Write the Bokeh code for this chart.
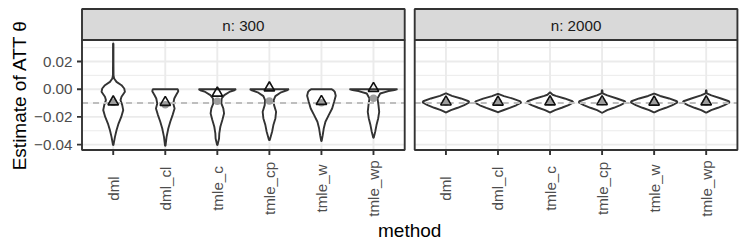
import math
from bokeh.plotting import figure
from bokeh.models import Range1d
from bokeh.core.properties import value
from bokeh.embed import file_html
from bokeh.resources import INLINE

# ---------------- data ----------------
methods = ["dml", "dml_cl", "tmle_c", "tmle_cp", "tmle_w", "tmle_wp"]
panels = ["n: 300", "n: 2000"]
y_ticks = [-0.04, -0.02, 0.0, 0.02]
y_tick_labels = ["\u22120.04", "\u22120.02", "0.00", "0.02"]
y_minor = [-0.03, -0.01, 0.01, 0.03]
true_att = -0.01
x_title = "method"
y_title = "Estimate of ATT \u03b8"

mean_300 = [-0.0091, -0.0095, -0.0028, 0.0010, -0.0088, 0.0006]
median_300 = [-0.0095, -0.0112, -0.0087, -0.0085, -0.0097, -0.0065]
mean_2000 = [-0.0092, -0.0093, -0.0091, -0.0090, -0.0093, -0.0091]
median_2000 = [-0.0093, -0.0094, -0.0092, -0.0091, -0.0094, -0.0092]

# violin outlines: estimate values and density half-widths (category units)
violin_y_300 = [
    [0.0330, 0.0200, 0.0100, 0.0077, 0.0053, 0.0029, 0.0005, -0.0019, -0.0055, -0.0079, -0.0115, -0.0151, -0.0200, -0.0248, -0.0296, -0.0344, -0.0404],
    [0.0000, -0.0015, -0.0040, -0.0067, -0.0103, -0.0139, -0.0187, -0.0235, -0.0284, -0.0344, -0.0409],
    [0.0000, -0.0008, -0.0020, -0.0043, -0.0067, -0.0103, -0.0139, -0.0175, -0.0223, -0.0271, -0.0319, -0.0356, -0.0404],
    [0.0000, -0.0008, -0.0025, -0.0050, -0.0079, -0.0115, -0.0163, -0.0211, -0.0259, -0.0307, -0.0368],
    [0.0000, -0.0008, -0.0019, -0.0048, -0.0091, -0.0139, -0.0187, -0.0235, -0.0284, -0.0332, -0.0375],
    [0.0000, -0.0007, -0.0014, -0.0031, -0.0067, -0.0115, -0.0163, -0.0211, -0.0259, -0.0307, -0.0350],
]
violin_w_300 = [
    [0.004, 0.004, 0.006, 0.017, 0.063, 0.159, 0.211, 0.225, 0.159, 0.140, 0.173, 0.192, 0.154, 0.102, 0.063, 0.033, 0.004],
    [0.240, 0.250, 0.211, 0.173, 0.154, 0.179, 0.140, 0.096, 0.058, 0.025, 0.004],
    [0.359, 0.327, 0.231, 0.134, 0.083, 0.077, 0.115, 0.129, 0.096, 0.058, 0.038, 0.033, 0.004],
    [0.375, 0.336, 0.211, 0.115, 0.083, 0.090, 0.129, 0.115, 0.077, 0.052, 0.006],
    [0.192, 0.231, 0.256, 0.275, 0.244, 0.206, 0.140, 0.077, 0.044, 0.025, 0.004],
    [0.461, 0.403, 0.288, 0.129, 0.077, 0.096, 0.110, 0.090, 0.058, 0.033, 0.004],
]
violin_y_2000 = [
    [-0.0031, -0.0048, -0.0067, -0.0087, -0.0096, -0.0115, -0.0134, -0.0151, -0.0168],
    [-0.0034, -0.0050, -0.0068, -0.0088, -0.0097, -0.0116, -0.0135, -0.0152, -0.0166],
    [-0.0024, -0.0040, -0.0048, -0.0067, -0.0087, -0.0096, -0.0115, -0.0134, -0.0151, -0.0168],
    [-0.0007, -0.0030, -0.0045, -0.0067, -0.0087, -0.0096, -0.0115, -0.0134, -0.0151, -0.0170],
    [-0.0032, -0.0049, -0.0067, -0.0087, -0.0096, -0.0115, -0.0134, -0.0151, -0.0167],
    [-0.0007, -0.0030, -0.0045, -0.0067, -0.0087, -0.0096, -0.0115, -0.0134, -0.0151, -0.0169],
]
violin_w_2000 = [
    [0.004, 0.115, 0.288, 0.436, 0.448, 0.352, 0.225, 0.096, 0.004],
    [0.004, 0.115, 0.285, 0.430, 0.445, 0.350, 0.225, 0.100, 0.004],
    [0.004, 0.050, 0.110, 0.280, 0.430, 0.448, 0.355, 0.225, 0.096, 0.004],
    [0.004, 0.010, 0.100, 0.285, 0.436, 0.448, 0.352, 0.225, 0.096, 0.004],
    [0.004, 0.115, 0.288, 0.436, 0.448, 0.352, 0.225, 0.096, 0.004],
    [0.004, 0.010, 0.100, 0.285, 0.436, 0.448, 0.352, 0.225, 0.096, 0.004],
]

# ---------------- layout / style (canvas pixels, from top-left) ----------------
FONT = "Liberation Sans"
W, H = 747, 249
PANEL_LEFT = 81.5        # left border of first panel
PX = 52.05               # pixels per category unit
GAP = 10.0 / PX
PXY = 1385.0             # pixels per estimate unit
ZERO_ROW = 88.7          # canvas row of estimate 0
STRIP_TOP, STRIP_BOT = 8.5, 39.5
STRIP_TEXT_MID = 25.0
PANEL_BOT = 149.5
TICK_LEN = 5.0
XLAB_MID = 188.0
XTITLE_MID = 229.5
YLAB_RIGHT = 72.0
YTITLE_MID = 18.8
DARK = "#333333"
GRID = "#EBEBEB"

n = len(methods)
span = n + 0.2
offsets = [0.0, span + GAP]


def val(row):            # canvas row -> estimate value
    return (ZERO_ROW - row) / PXY


def up(row):             # canvas row -> px-range y
    return H - row


x_start = 0.4 - PANEL_LEFT / PX
x_end = x_start + W / PX

p = figure(width=W, height=H, x_range=Range1d(x_start, x_end),
           y_range=Range1d(val(H), val(0)),
           output_backend="svg", toolbar_location=None, title=None,
           x_axis_location=None, y_axis_location=None,
           min_border_left=0, min_border_right=0, min_border_top=0, min_border_bottom=0)
p.extra_x_ranges = {"px": Range1d(0, W)}
p.extra_y_ranges = {"px": Range1d(0, H)}
p.outline_line_color = None
p.background_fill_color = "white"
p.border_fill_color = "white"
p.xgrid.visible = False
p.ygrid.visible = False

p_top, p_bot = val(STRIP_BOT), val(PANEL_BOT)
lefts = [0.4 + o for o in offsets]
rights = [n + 0.6 + o for o in offsets]

# ---- grid ----
for o, x0, x1 in zip(offsets, lefts, rights):
    p.segment(x0=[x0] * len(y_minor), x1=[x1] * len(y_minor), y0=y_minor, y1=y_minor,
              line_color=GRID, line_width=1.0)
    p.segment(x0=[x0] * len(y_ticks), x1=[x1] * len(y_ticks), y0=y_ticks, y1=y_ticks,
              line_color=GRID, line_width=1.9)
    cats = [i + 1 + o for i in range(n)]
    p.segment(x0=cats, x1=cats, y0=[p_bot] * n, y1=[p_top] * n,
              line_color=GRID, line_width=1.9)

# ---- violins ----
all_y = [violin_y_300, violin_y_2000]
all_w = [violin_w_300, violin_w_2000]
all_mean = [mean_300, mean_2000]
all_med = [median_300, median_2000]
for k, o in enumerate(offsets):
    xs, ys = [], []
    for i in range(n):
        cx = i + 1 + o
        yy, ww = all_y[k][i], all_w[k][i]
        xs.append([cx - w for w in ww] + [cx + w for w in reversed(ww)])
        ys.append(list(yy) + list(reversed(yy)))
    p.patches(xs, ys, fill_color="white", line_color=DARK, line_width=1.9)

# ---- reference line ----
for x0, x1 in zip(lefts, rights):
    p.line(x=[x0, x1], y=[true_att, true_att], line_color="#BEBEBE",
           line_width=1.9, line_dash="6 5")

# ---- points ----
for k, o in enumerate(offsets):
    cats = [i + 1 + o for i in range(n)]
    p.scatter(x=cats, y=all_med[k], marker="circle", size=7.5,
              fill_color="#9E9E9E", line_color=None)
    p.scatter(x=cats, y=all_mean[k], marker="triangle", size=10.5,
              fill_color=None, line_color="#111111", line_width=1.6)

# ---- panel borders ----
p.quad(left=lefts, right=rights, bottom=p_bot, top=p_top,
       fill_color=None, line_color=DARK, line_width=1.9)

# ---- strips ----
p.quad(left=lefts, right=rights, bottom=up(STRIP_BOT), top=up(STRIP_TOP),
       fill_color="#D9D9D9", line_color=DARK, line_width=1.9, y_range_name="px")
p.text(x=[(l + r) / 2 for l, r in zip(lefts, rights)], y=[up(STRIP_TEXT_MID)] * len(panels),
       text=panels, y_range_name="px",
       text_font=value(FONT), text_font_size="15.2px", text_color="#1A1A1A",
       text_align="center", text_baseline="middle")

# ---- x axis: ticks, labels, title ----
for o in offsets:
    cats = [i + 1 + o for i in range(n)]
    p.segment(x0=cats, x1=cats, y0=[up(PANEL_BOT)] * n, y1=[up(PANEL_BOT + TICK_LEN)] * n,
              line_color=DARK, line_width=1.9, y_range_name="px")
    p.text(x=cats, y=[up(XLAB_MID)] * n, text=methods, angle=math.pi / 2,
           y_range_name="px",
           text_font=value(FONT), text_font_size="15.2px", text_color="#4D4D4D",
           text_align="center", text_baseline="middle")
p.text(x=[(lefts[0] + rights[-1]) / 2], y=[up(XTITLE_MID)], text=[x_title],
       y_range_name="px",
       text_font=value(FONT), text_font_size="19px", text_color="black",
       text_align="center", text_baseline="middle")

# ---- y axis: ticks, labels, title ----
m = len(y_ticks)
p.segment(x0=[PANEL_LEFT - TICK_LEN] * m, x1=[PANEL_LEFT] * m, y0=y_ticks, y1=y_ticks,
          line_color=DARK, line_width=1.9, x_range_name="px")
p.text(x=[YLAB_RIGHT] * m, y=y_ticks, text=y_tick_labels, x_range_name="px",
       text_font=value(FONT), text_font_size="15.2px", text_color="#4D4D4D",
       text_align="right", text_baseline="middle")
p.text(x=[YTITLE_MID], y=[(p_top + p_bot) / 2], text=[y_title], angle=math.pi / 2,
       x_range_name="px",
       text_font=value(FONT), text_font_size="19px", text_color="black",
       text_align="center", text_baseline="middle")

open("out.html", "w").write(file_html(p, INLINE))
